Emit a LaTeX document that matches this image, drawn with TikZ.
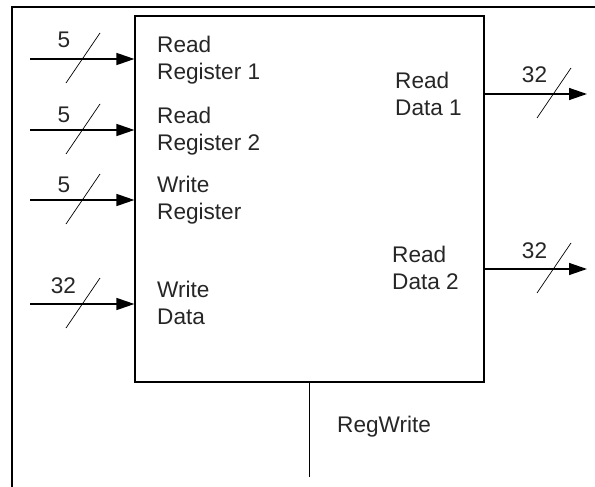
\documentclass[tikz,border=0pt]{standalone}
\usepackage{fontspec}
\setmainfont{Liberation Sans}
\usetikzlibrary{arrows.meta}
\begin{document}
\begin{tikzpicture}[x=1pt,y=-1pt,
  txt/.style={inner sep=0pt, font=\fontsize{22.6pt}{27pt}\selectfont, align=left, text=black!85},
  lbl/.style={txt, anchor=base west},
  num/.style={txt, anchor=base},
  bus/.style={line width=1.4pt, -{Triangle[length=18pt,width=12pt]}},
  slash/.style={line width=0.7pt},
  frame/.style={line width=2.6pt}]
\useasboundingbox (0,0) rectangle (595,487);
\draw[frame] (595,7) -- (12,7) -- (12,487);
\node[draw, line width=1.2pt, minimum width=349pt, minimum height=366pt, inner sep=0pt] (box) at (309.5,199) {};
% inputs
\coordinate (i1) at (30,59);
\coordinate (i2) at (30,130);
\coordinate (i3) at (30,200);
\coordinate (i4) at (30,304);
\foreach \c in {i1,i2,i3,i4}{
  \draw[bus] (\c) -- (\c -| box.west);
  \draw[slash] (\c) ++(36,24) -- ++(34,-50);
}
\node[num] (n1) at (64,48) {5};
\node[num] (n2) at (64,122) {5};
\node[num] (n3) at (64,192) {5};
\node[num] (n4) at (63.5,293) {32};
% outputs
\coordinate (o1) at (587,94);
\coordinate (o2) at (587,269);
\foreach \c in {o1,o2}{
  \draw[bus] (\c -| box.east) -- (\c);
  \draw[slash] (\c) ++(-50,24) -- ++(34,-50);
}
\node[num] (n5) at (534.5,83) {32};
\node[num] (n6) at (534.5,258) {32};
% control
\coordinate (rw) at (309.5,477);
\draw[line width=1.2pt] (box.south) -- (rw);
% labels (anchor = baseline of the last line)
\node[lbl] (l1) at (157,80) {Read\\Register 1};
\node[lbl] (l2) at (157,150) {Read\\Register 2};
\node[lbl] (l3) at (157,219) {Write\\Register};
\node[lbl] (l4) at (157,324) {Write\\Data};
\node[lbl] (l5) at (395,115) {Read\\Data 1};
\node[lbl] (l6) at (392,289) {Read\\Data 2};
\node[lbl] (l7) at (337,432) {RegWrite};
\end{tikzpicture}
\end{document}
